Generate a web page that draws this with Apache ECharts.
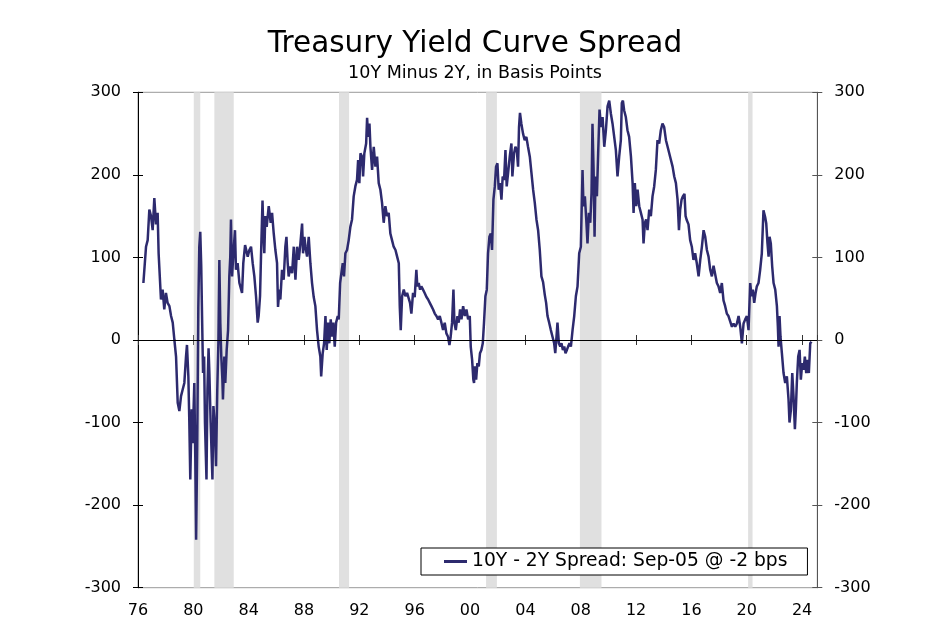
<!DOCTYPE html>
<html>
<head>
<meta charset="utf-8">
<script src="https://cdn.jsdelivr.net/npm/echarts@6/dist/echarts.min.js"></script>
<style>
html,body{margin:0;padding:0;background:#fff;}
#chart{width:950px;height:630px;}
</style>
</head>
<body>
<div id="chart"></div>
<script>
// Decimal years of observations
var years = [
1976.39,1976.58,1976.70,1976.82,1976.94,1977.06,1977.18,1977.30,1977.42,1977.49,
1977.66,1977.78,1977.90,1978.02,1978.14,1978.27,1978.39,1978.51,1978.63,1978.75,
1978.87,1978.99,1979.11,1979.23,1979.35,1979.47,1979.54,1979.64,1979.71,1979.78,
1979.88,1979.95,1980.07,1980.14,1980.20,1980.28,1980.36,1980.43,1980.50,1980.57,
1980.63,1980.70,1980.78,1980.84,1980.95,1981.02,1981.10,1981.16,1981.25,1981.38,
1981.45,1981.54,1981.64,1981.73,1981.81,1981.88,1981.95,1982.02,1982.10,1982.14,
1982.24,1982.31,1982.41,1982.51,1982.60,1982.67,1982.72,1982.80,1982.88,1983.01,
1983.08,1983.20,1983.33,1983.40,1983.52,1983.61,1983.74,1983.81,1983.93,1984.05,
1984.17,1984.29,1984.41,1984.53,1984.65,1984.72,1984.82,1984.89,1985.00,1985.06,
1985.13,1985.20,1985.30,1985.45,1985.59,1985.69,1985.81,1985.93,1986.05,1986.12,
1986.22,1986.29,1986.41,1986.53,1986.65,1986.73,1986.82,1986.89,1987.01,1987.14,
1987.26,1987.38,1987.50,1987.62,1987.74,1987.86,1987.93,1988.03,1988.10,1988.22,
1988.34,1988.46,1988.58,1988.70,1988.82,1988.94,1989.06,1989.18,1989.24,1989.35,
1989.45,1989.55,1989.64,1989.74,1989.83,1989.93,1990.03,1990.12,1990.22,1990.32,
1990.44,1990.51,1990.61,1990.70,1990.80,1990.89,1990.99,1991.11,1991.23,1991.35,
1991.47,1991.59,1991.71,1991.83,1991.91,1992.00,1992.08,1992.20,1992.27,1992.36,
1992.49,1992.56,1992.63,1992.73,1992.80,1992.92,1993.04,1993.16,1993.28,1993.40,
1993.52,1993.64,1993.76,1993.88,1994.00,1994.12,1994.24,1994.36,1994.48,1994.61,
1994.73,1994.85,1994.92,1994.99,1995.09,1995.21,1995.33,1995.45,1995.57,1995.66,
1995.76,1995.88,1996.00,1996.12,1996.19,1996.29,1996.39,1996.48,1996.60,1996.72,
1996.85,1996.97,1997.09,1997.21,1997.33,1997.45,1997.57,1997.69,1997.81,1997.93,
1998.05,1998.17,1998.29,1998.41,1998.51,1998.60,1998.70,1998.80,1998.87,1998.97,
1999.09,1999.18,1999.28,1999.38,1999.50,1999.62,1999.74,1999.86,1999.98,2000.05,
2000.15,2000.24,2000.29,2000.34,2000.44,2000.53,2000.63,2000.72,2000.82,2000.92,
2001.01,2001.11,2001.21,2001.30,2001.40,2001.50,2001.59,2001.69,2001.79,2001.88,
2001.98,2002.07,2002.17,2002.27,2002.36,2002.46,2002.56,2002.65,2002.75,2002.87,
2002.99,2003.06,2003.18,2003.28,2003.38,2003.47,2003.54,2003.61,2003.71,2003.83,
2003.95,2004.07,2004.19,2004.32,2004.44,2004.56,2004.68,2004.80,2004.92,2005.04,
2005.16,2005.28,2005.40,2005.50,2005.60,2005.72,2005.84,2005.96,2006.08,2006.16,
2006.25,2006.32,2006.42,2006.52,2006.61,2006.71,2006.81,2006.90,2007.00,2007.09,
2007.19,2007.29,2007.41,2007.53,2007.65,2007.77,2007.89,2008.01,2008.13,2008.20,
2008.30,2008.40,2008.49,2008.59,2008.69,2008.78,2008.85,2008.93,2009.00,2009.07,
2009.17,2009.26,2009.36,2009.46,2009.58,2009.70,2009.82,2009.94,2010.06,2010.18,
2010.30,2010.42,2010.54,2010.66,2010.78,2010.90,2010.97,2011.05,2011.14,2011.26,
2011.38,2011.50,2011.63,2011.75,2011.82,2011.91,2012.01,2012.11,2012.23,2012.35,
2012.47,2012.54,2012.64,2012.73,2012.83,2012.95,2013.07,2013.19,2013.31,2013.43,
2013.55,2013.67,2013.79,2013.91,2014.03,2014.16,2014.28,2014.40,2014.52,2014.64,
2014.76,2014.88,2015.00,2015.10,2015.19,2015.29,2015.38,2015.43,2015.50,2015.58,
2015.67,2015.79,2015.91,2016.03,2016.15,2016.27,2016.39,2016.52,2016.64,2016.76,
2016.88,2017.00,2017.12,2017.24,2017.36,2017.48,2017.60,2017.72,2017.84,2017.96,
2018.08,2018.20,2018.32,2018.44,2018.56,2018.68,2018.80,2018.93,2019.05,2019.17,
2019.29,2019.41,2019.53,2019.65,2019.77,2019.89,2020.01,2020.13,2020.25,2020.35,
2020.44,2020.54,2020.64,2020.73,2020.85,2020.97,2021.09,2021.21,2021.33,2021.41,
2021.50,2021.58,2021.65,2021.74,2021.84,2021.94,2022.06,2022.18,2022.25,2022.30,
2022.37,2022.44,2022.54,2022.66,2022.78,2022.90,2023.02,2023.09,2023.19,2023.29,
2023.38,2023.48,2023.55,2023.62,2023.72,2023.82,2023.91,2024.01,2024.11,2024.20,
2024.30,2024.39,2024.49,2024.59,2024.68
];
// 10Y minus 2Y spread, basis points
var spread = [
69,113,121,158,150,133,172,140,154,105,
49,61,37,57,45,41,29,21,0,-20,
-76,-86,-68,-60,-52,-20,-6,-44,-100,-169,
-84,-125,-52,-141,-242,-130,40,113,131,90,
29,-40,-20,-100,-169,-60,-10,-40,-100,-169,
-80,-100,-153,-60,-4,97,21,-20,-48,-72,
-20,-52,-12,12,77,101,146,77,101,133,
85,93,69,67,57,93,115,117,101,109,
113,93,77,53,21,29,53,101,169,133,
105,150,137,162,142,154,129,109,93,40,
61,49,85,73,113,125,93,77,89,81,
113,73,113,97,117,141,105,125,113,101,
125,93,69,52,41,12,-8,-20,-44,-16,
-4,29,-12,21,-4,25,4,21,-8,21,
29,25,69,81,93,77,105,109,121,137,
146,174,186,194,218,190,226,222,198,226,
238,269,246,262,234,206,234,210,222,190,
182,166,142,162,150,154,129,121,113,109,
101,93,41,12,53,61,53,57,55,45,
32,57,52,85,65,69,61,65,61,57,
52,49,45,41,37,32,29,25,29,21,
12,21,8,4,-6,4,21,61,21,12,
29,21,37,25,41,29,37,25,29,-8,
-24,-48,-52,-32,-48,-28,-32,-16,-12,-4,
21,53,61,105,125,129,109,170,186,210,
214,182,190,170,198,194,230,186,202,222,
238,198,226,234,230,210,258,275,262,250,
242,246,234,222,202,182,166,146,133,109,
77,70,55,45,29,21,12,4,-4,-16,
4,21,-4,-8,-4,-12,-8,-16,-12,-8,
-4,-8,12,29,53,65,105,113,206,162,
174,146,117,154,142,178,262,206,125,198,
174,226,279,258,270,234,254,283,290,274,
262,246,230,198,222,242,287,290,278,270,
254,246,222,190,154,190,162,182,162,154,
146,117,142,146,133,158,150,174,186,206,
242,238,254,262,258,242,234,234,218,210,
198,190,170,133,158,170,174,174,177,150,
145,140,121,113,97,105,93,77,97,113,
133,125,109,101,85,77,90,89,69,65,
57,69,48,41,32,29,29,16,20,16,
20,29,16,-4,20,25,29,12,69,53,
61,45,57,65,69,85,105,157,149,141,
117,101,125,117,89,69,61,41,16,-8,
29,4,-16,-40,-52,-44,-72,-100,-85,-40,
-68,-108,-84,-52,-20,-12,-48,-28,-36,-20,
-40,-24,-40,-4,-2
];
// Recession periods (decimal years)
var recStart = [1980.03, 1981.52, 1990.53, 2001.16, 2007.94, 2020.10];
var recEnd   = [1980.50, 1982.92, 1991.26, 2001.94, 2009.50, 2020.42];

var yTicks = { min: -300, max: 300, interval: 100 };
var xRange = { min: 1976, max: 2025.1, interval: 4 };

var seriesName = '10Y - 2Y Spread: Sep-05 @ -2 bps';
var FONT = 'DejaVu Sans';

var lineData = years.map(function (y, i) { return [y, spread[i]]; });
var bands = recStart.map(function (s, i) {
  return [{ xAxis: s }, { xAxis: recEnd[i] }];
});

function xFmt(v) {
  var r = Math.round(v);
  if (Math.abs(v - r) > 1e-6 || (r - 1976) % 4 !== 0) return '';
  return String(r % 100).padStart(2, '0');
}

var chart = echarts.init(document.getElementById('chart'), null, { renderer: 'canvas' });

function yAxisDef(pos, showLabels, inside, lineColor) {
  return {
    type: 'value', position: pos,
    min: yTicks.min, max: yTicks.max, interval: yTicks.interval,
    axisLine: { show: true, lineStyle: { color: lineColor, width: 1 } },
    axisTick: { show: true, inside: inside, length: 5, lineStyle: { color: lineColor } },
    axisLabel: { show: showLabels, margin: 17, color: '#000', fontSize: 16, fontFamily: FONT },
    splitLine: { show: false }
  };
}
function xAxisDef(showLabels, inside) {
  return {
    type: 'value', position: 'bottom',
    min: xRange.min, max: xRange.max, interval: xRange.interval,
    axisLine: { show: true, lineStyle: { color: '#666', width: 1 } },
    axisTick: { show: true, inside: inside, length: 5, lineStyle: { color: '#333' } },
    axisLabel: { show: showLabels, margin: 15, color: '#000', fontSize: 16, fontFamily: FONT, formatter: xFmt, showMaxLabel: false },
    splitLine: { show: false }
  };
}

chart.setOption({
  animation: false,
  backgroundColor: '#fff',
  title: {
    text: 'Treasury Yield Curve Spread',
    subtext: '10Y Minus 2Y, in Basis Points',
    left: 'center', top: 24, itemGap: 5,
    textStyle: { fontFamily: FONT, fontSize: 29.5, fontWeight: 'normal', color: '#000' },
    subtextStyle: { fontFamily: FONT, fontSize: 17.5, color: '#000' }
  },
  grid: {
    left: 138, right: 132.7, top: 92.3, bottom: 42.3,
    show: true, borderColor: '#999', borderWidth: 1, backgroundColor: 'transparent'
  },
  legend: {
    data: [seriesName],
    left: 421, top: 548,
    padding: [4, 20, 4, 23],
    itemWidth: 23, itemHeight: 3, itemGap: 5,
    icon: 'rect',
    borderColor: '#000', borderWidth: 1, backgroundColor: '#fff',
    textStyle: { fontFamily: FONT, fontSize: 18.7, color: '#000' }
  },
  xAxis: [ xAxisDef(true, false), xAxisDef(false, true) ],
  yAxis: [
    yAxisDef('left', true, false, '#000'),
    yAxisDef('right', true, false, '#555'),
    yAxisDef('left', false, true, '#000'),
    yAxisDef('right', false, true, '#555')
  ],
  series: [
    {
      name: 'recessions', type: 'line', data: [], z: 1, silent: true,
      markArea: { silent: true, itemStyle: { color: '#e0e0e0' }, data: bands }
    },
    {
      name: 'zero', type: 'line', data: [], z: 2, silent: true,
      markLine: {
        silent: true, symbol: ['none', 'none'], label: { show: false },
        lineStyle: { color: '#000', width: 1, type: 'solid' },
        data: [{ yAxis: 0 }]
      }
    },
    {
      name: seriesName, type: 'line', data: lineData, z: 3,
      showSymbol: false, symbol: 'none',
      lineStyle: { color: '#2d2a6e', width: 2.5 },
      itemStyle: { color: '#2d2a6e' }
    }
  ]
});
</script>
</body>
</html>
